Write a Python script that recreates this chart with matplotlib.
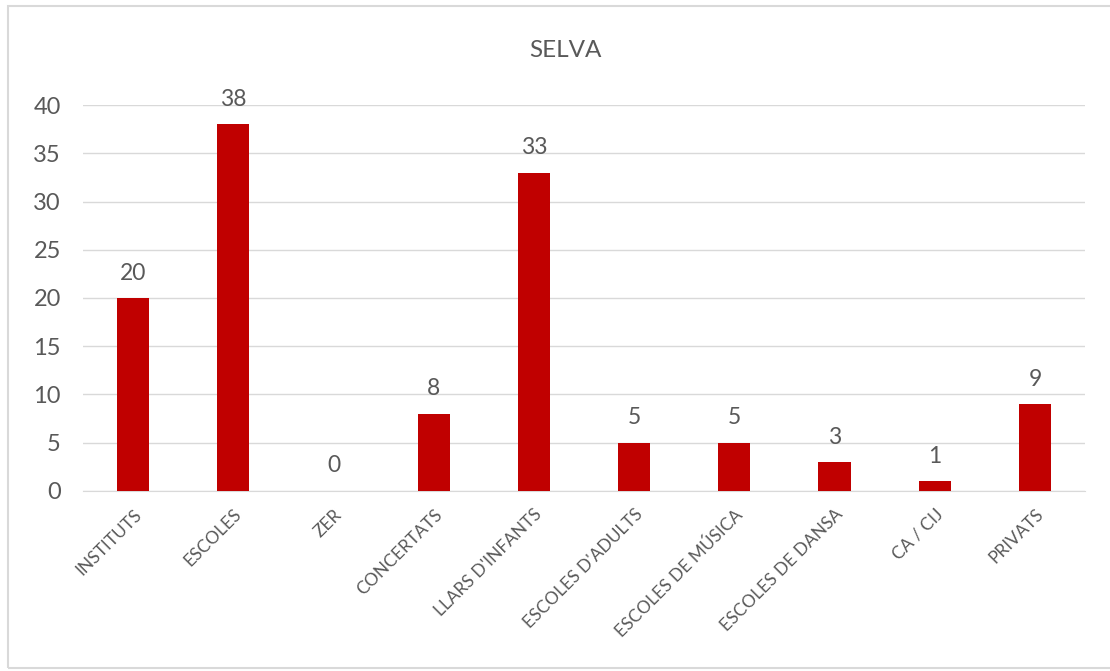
import numpy as np
import matplotlib.pyplot as plt
from matplotlib.patches import Rectangle

# data
categories = ["INSTITUTS", "ESCOLES", "ZER", "CONCERTATS", "LLARS D'INFANTS",
              "ESCOLES D'ADULTS", "ESCOLES DE MÚSICA", "ESCOLES DE DANSA",
              "CA / CIJ", "PRIVATS"]
values = [20, 38, 0, 8, 33, 5, 5, 3, 1, 9]
yticks = [0, 5, 10, 15, 20, 25, 30, 35, 40]

plt.rcParams['font.family'] = ['Lato', 'DejaVu Sans']
txt = "#595959"

fig = plt.figure(figsize=(11.1, 6.71), dpi=100)
ax = fig.add_axes([0.0748, 0.2683, 0.9027, 0.5752])

x = np.arange(len(categories))
ax.bar(x, values, width=0.32, color="#C00000", zorder=3)
for xi, v in zip(x, values):
    ax.text(xi, v + 1.5, str(v), ha="center", va="bottom", fontsize=16.5, color=txt)

ax.set_xlim(-0.5, len(categories) - 0.5)
ax.set_ylim(0, 40)
ax.set_yticks(yticks)
ax.yaxis.grid(True, color="#D9D9D9", lw=1, zorder=0)
ax.set_xticks(x)
ax.set_xticklabels(categories, rotation=45, ha="right", rotation_mode="anchor",
                   fontsize=12.5, color=txt)
ax.tick_params(axis="y", labelsize=17, labelcolor=txt, length=0, pad=16)
ax.tick_params(axis="x", length=0, pad=11)
for s in ["top", "right", "left"]:
    ax.spines[s].set_visible(False)
ax.spines["bottom"].set_color("#D9D9D9")

fig.text(0.509, 0.925, "SELVA", ha="center", va="center", fontsize=17.5, color=txt)

fig.patches.append(Rectangle((0.007, 0.004), 0.995, 0.987, transform=fig.transFigure,
                             fill=False, edgecolor="#D9D9D9", lw=1.5))

fig.savefig("out.png", dpi=100)
